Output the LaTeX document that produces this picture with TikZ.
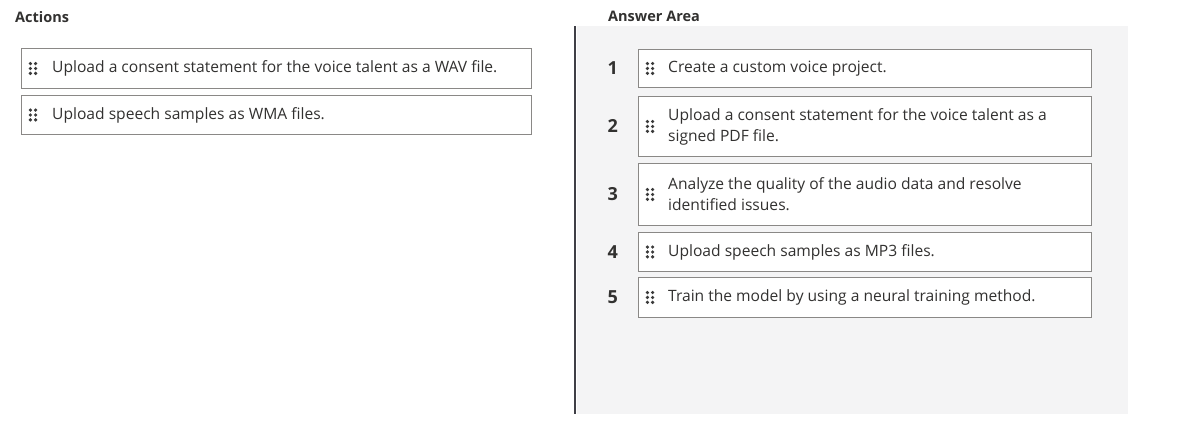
\documentclass[tikz,border=0pt]{standalone}
\usepackage{fontspec}
\setmainfont{Open Sans}
\usetikzlibrary{positioning}

\definecolor{txt}{HTML}{323130}
\definecolor{boxgray}{HTML}{8A8886}
\definecolor{areagray}{HTML}{F4F4F5}
\definecolor{bargray}{HTML}{3F3F46}
\definecolor{gripcol}{HTML}{3A3A3A}

\tikzset{
	itembox/.style={draw=boxgray, fill=white, line width=0.9pt, anchor=north west, inner sep=0pt},
	itemtext/.style={anchor=west, align=left, text=txt, inner sep=0pt, font=\fontsize{15.6}{21}\selectfont},
	stepnum/.style={text=txt, inner sep=0pt, font=\bfseries\fontsize{18}{21}\selectfont},
	heading/.style={anchor=west, text=txt, inner sep=0pt, font=\bfseries\fontsize{14.5}{17}\selectfont}
}

% six dots of a drag handle round a named point
\newcommand{\grip}[1]{
	\foreach \dx in {-2.6,2.6}{
		\foreach \dy in {-4.9,0,4.9}{
			\fill[gripcol, shift={(#1)}] (\dx,\dy) circle (1.8pt);
		}
	}
}

\begin{document}
\begin{tikzpicture}[x=1pt,y=-1pt]
	\useasboundingbox (0,0) rectangle (1194,426);
	
	% answer area
	\fill[areagray] (577,26) rectangle (1128,414);
	\draw[bargray, line width=2.5pt] (575,26) coordinate (bartop) -- (575,414) coordinate (barbot);
	
	\node[heading] (actions) at (15,17) {Actions};
	\node[heading] (answer) at (608,16) {Answer Area};
	
	% actions
	\node[itembox, minimum width=510, minimum height=40] (a1) at (21,48) {};
	\node[itembox, minimum width=510, minimum height=39] (a2) at (21,95) {};
	\coordinate (ga1) at ([xshift=12pt]a1.west);
	\coordinate (ga2) at ([xshift=12pt]a2.west);
	\grip{ga1}
	\grip{ga2}
	\node[itemtext] (ta1) at ([xshift=31pt]a1.west) {Upload a consent statement for the voice talent as a WAV file.};
	\node[itemtext] (ta2) at ([xshift=31pt]a2.west) {Upload speech samples as WMA files.};
	
	% answers
	\node[itembox, minimum width=453, minimum height=38] (s1) at (638,49) {};
	\node[itembox, minimum width=453, minimum height=60] (s2) at (638,96) {};
	\node[itembox, minimum width=453, minimum height=62] (s3) at (638,163) {};
	\node[itembox, minimum width=453, minimum height=39] (s4) at (638,232) {};
	\node[itembox, minimum width=453, minimum height=40] (s5) at (638,277) {};
	
	\foreach \i in {1,...,5}{
		\coordinate (gs\i) at ([xshift=12pt]s\i.west);
		\grip{gs\i}
		\node[stepnum, left=20pt of s\i.west] (n\i) {\i};
	}
	
	\node[itemtext] (ts1) at ([xshift=30pt]s1.west) {Create a custom voice project.};
	\node[itemtext] (ts2) at ([xshift=30pt]s2.west) {Upload a consent statement for the voice talent as a\\signed PDF file.};
	\node[itemtext] (ts3) at ([xshift=30pt]s3.west) {Analyze the quality of the audio data and resolve\\identified issues.};
	\node[itemtext] (ts4) at ([xshift=30pt]s4.west) {Upload speech samples as MP3 files.};
	\node[itemtext] (ts5) at ([xshift=30pt]s5.west) {Train the model by using a neural training method.};
\end{tikzpicture}
\end{document}
